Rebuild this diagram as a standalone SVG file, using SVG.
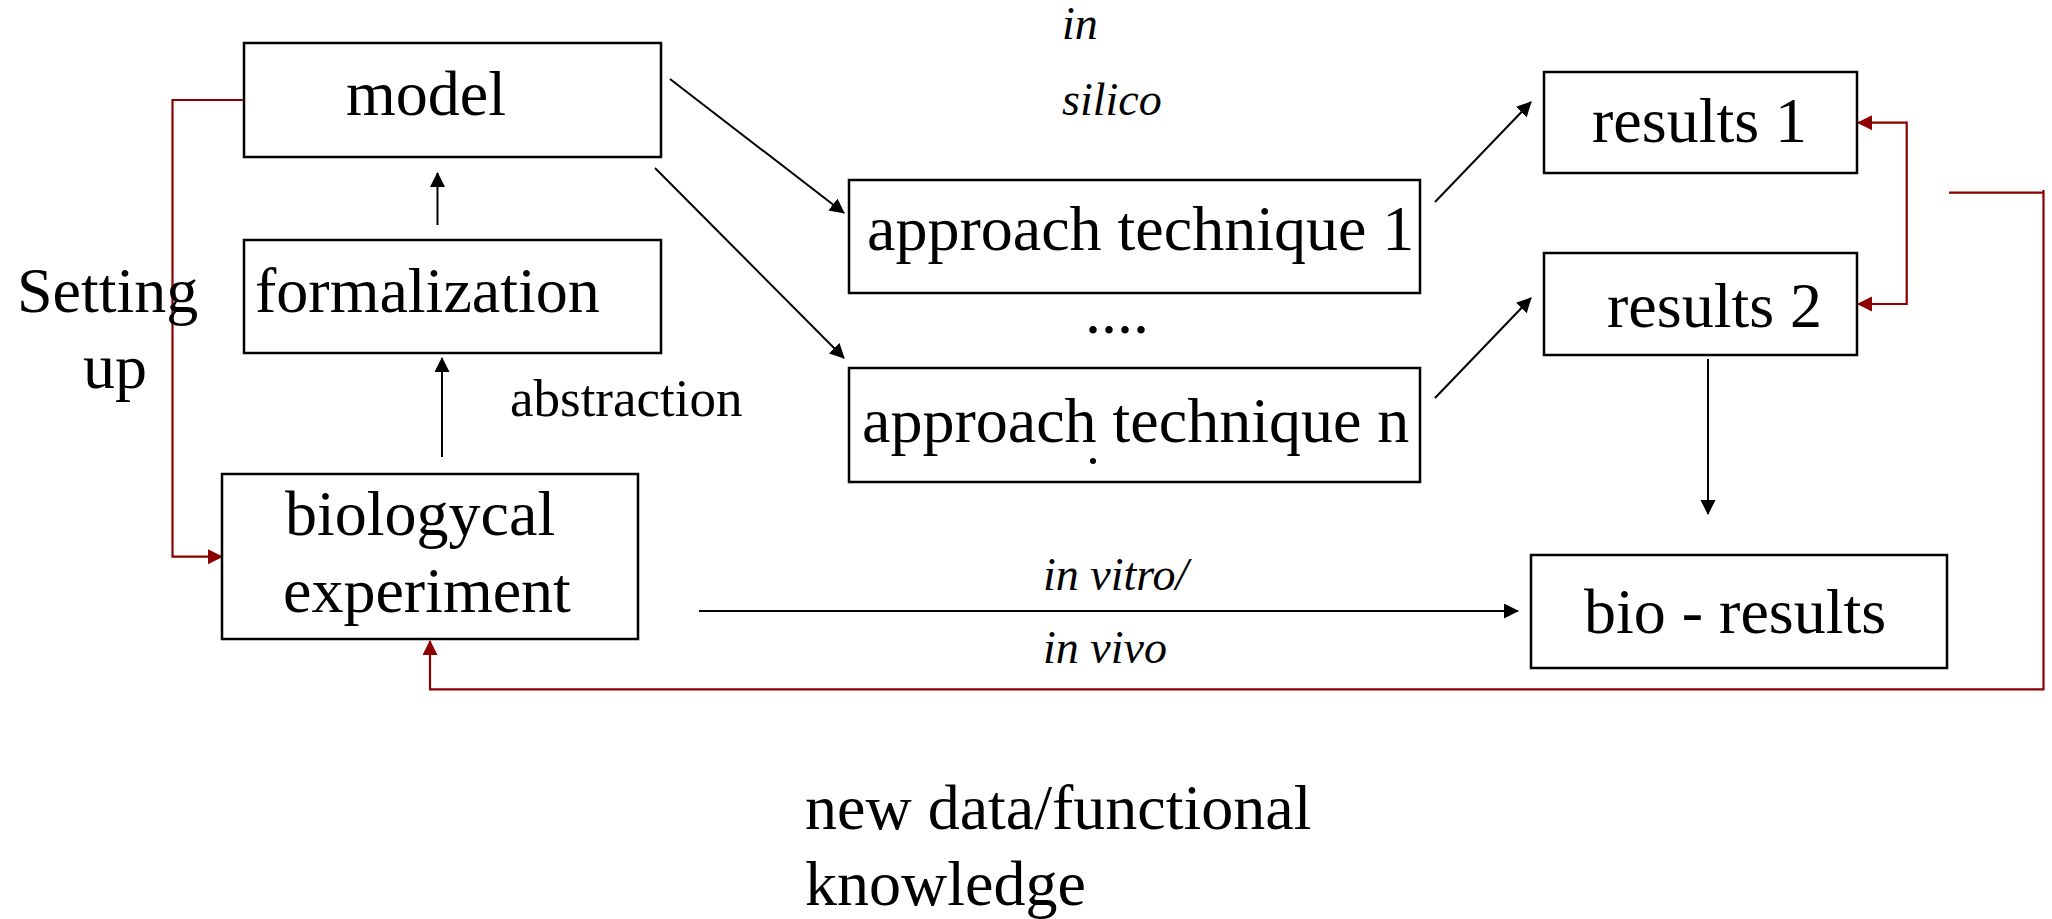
<svg xmlns="http://www.w3.org/2000/svg" width="2052" height="919" viewBox="0 0 2052 919">
  <defs>
    <style>
      .box { fill: #ffffff; stroke: #000000; stroke-width: 2.5; }
      .lbl { font-family: "Liberation Serif", "Times New Roman", serif; font-size: 64px; fill: #000000; }
      .it { font-family: "Liberation Serif", "Times New Roman", serif; font-size: 46px; font-style: italic; fill: #000000; }
      .small { font-family: "Liberation Serif", "Times New Roman", serif; font-size: 53px; fill: #000000; }
      .flow { fill: none; stroke: #000000; stroke-width: 2; marker-end: url(#arrow); }
      .loop { fill: none; stroke: #8c0000; stroke-width: 2.2; marker-end: url(#arrowRed); }
    </style>
    <marker id="arrow" markerUnits="userSpaceOnUse" markerWidth="16" markerHeight="16" refX="14" refY="7.5" orient="auto">
      <path d="M0,0 L15,7.5 L0,15 z" fill="#000000"/>
    </marker>
    <marker id="arrowRed" markerUnits="userSpaceOnUse" markerWidth="16" markerHeight="16" refX="14" refY="7.5" orient="auto">
      <path d="M0,0 L15,7.5 L0,15 z" fill="#8c0000"/>
    </marker>
  </defs>

  <rect width="2052" height="919" fill="#ffffff"/>

  <!-- connectors -->
  <g id="connectors">
    <line class="flow" x1="437.5" y1="225" x2="437.5" y2="173"/>
    <line class="flow" x1="442" y1="457" x2="442" y2="358"/>
    <line class="flow" x1="670" y1="79" x2="844" y2="213"/>
    <line class="flow" x1="655" y1="168" x2="844" y2="358"/>
    <line class="flow" x1="1435" y1="202" x2="1531" y2="102"/>
    <line class="flow" x1="1435" y1="398" x2="1531" y2="298"/>
    <line class="flow" x1="1708" y1="359" x2="1708" y2="514"/>
    <line class="flow" x1="699" y1="611" x2="1518" y2="611"/>

    <!-- setting up: model back to the experiment -->
    <path class="loop" d="M244,100 H172.5 V556.7 H222"/>
    <!-- results 1 / results 2 bracket -->
    <path class="loop" d="M1906.7,213 V122.7 H1858"/>
    <path class="loop" d="M1906.7,213 V304 H1858"/>
    <!-- new data feedback to the experiment -->
    <path class="loop" d="M1949,192.7 H2044.5 M2043.5,190 V689.3 H430 V641"/>
  </g>

  <!-- nodes -->
  <g id="model">
    <rect class="box" x="244" y="43" width="417" height="114"/>
    <text class="lbl" x="346" y="115">model</text>
  </g>
  <g id="formalization">
    <rect class="box" x="244" y="240" width="417" height="113"/>
    <text class="lbl" x="255" y="312">formalization</text>
  </g>
  <g id="biological-experiment">
    <rect class="box" x="222" y="474" width="416" height="165"/>
    <text class="lbl" x="285" y="535">biologycal</text>
    <text class="lbl" x="283" y="612">experiment</text>
  </g>
  <g id="approach-1">
    <rect class="box" x="849" y="180" width="571" height="113"/>
    <text class="lbl" x="867" y="250">approach technique 1</text>
  </g>
  <g id="approach-n">
    <rect class="box" x="849" y="368" width="571" height="114"/>
    <text class="lbl" x="862" y="442">approach technique n</text>
    <circle cx="1093" cy="461" r="3" fill="#000000"/>
  </g>
  <g id="results-1">
    <rect class="box" x="1544" y="72" width="313" height="101"/>
    <text class="lbl" x="1592" y="142">results 1</text>
  </g>
  <g id="results-2">
    <rect class="box" x="1544" y="253" width="313" height="102"/>
    <text class="lbl" x="1607" y="327">results 2</text>
  </g>
  <g id="bio-results">
    <rect class="box" x="1531" y="555" width="416" height="113"/>
    <text class="lbl" x="1584" y="633">bio - results</text>
  </g>

  <!-- free labels -->
  <g id="labels">
    <text class="lbl" x="17" y="312">Setting</text>
    <text class="lbl" x="83" y="388">up</text>
    <text class="small" x="510" y="416">abstraction</text>
    <text class="it" x="1062" y="39">in</text>
    <text class="it" x="1062" y="115">silico</text>
    <text class="lbl" x="1085" y="333">....</text>
    <text class="it" x="1043" y="590">in vitro/</text>
    <text class="it" x="1043" y="663">in vivo</text>
    <text class="lbl" x="805" y="829">new data/functional</text>
    <text class="lbl" x="805" y="905">knowledge</text>
  </g>
</svg>
